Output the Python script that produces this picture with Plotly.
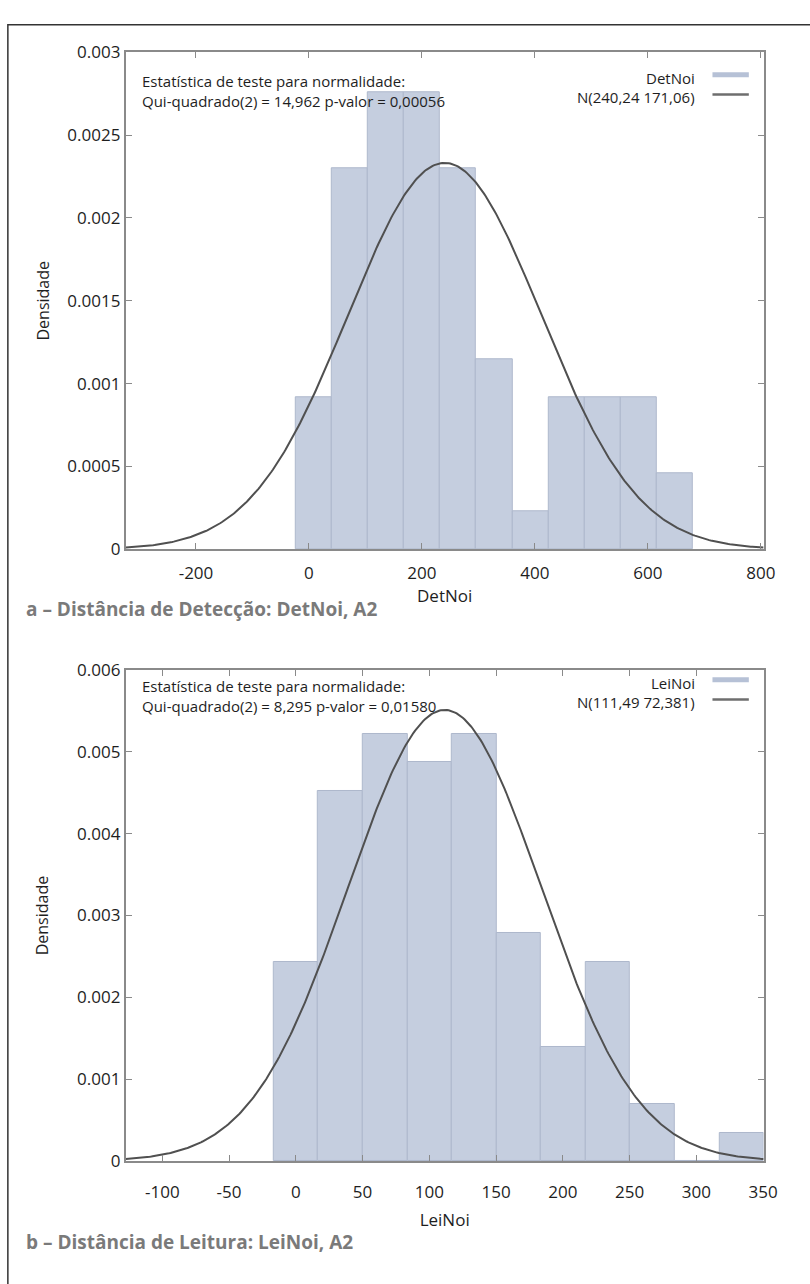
import numpy as np
import plotly.graph_objects as go

# ---------------- data ----------------
# Top: DetNoi
det_bin_centers = [8, 72, 136, 200, 264, 328, 392, 456, 520, 584, 648]
det_counts = [4, 10, 12, 12, 10, 5, 1, 4, 4, 4, 2]
det_bin_width = 64
det_n = 68
det_mean, det_sd = 240.24, 171.06
det_xticks = [-200, 0, 200, 400, 600, 800]
det_yticks = [0, 0.0005, 0.001, 0.0015, 0.002, 0.0025, 0.003]
det_ytext = ["0", "0.0005", "0.001", "0.0015", "0.002", "0.0025", "0.003"]

# Bottom: LeiNoi
lei_bin_centers = [0, 33.4, 66.8, 100.2, 133.6, 167.0, 200.4, 233.8, 267.2, 300.6, 334.0]
lei_counts = [7, 13, 15, 14, 15, 8, 4, 7, 2, 0, 1]
lei_bin_width = 33.4
lei_n = 86
lei_mean, lei_sd = 111.49, 72.381
lei_xticks = [-100, -50, 0, 50, 100, 150, 200, 250, 300, 350]
lei_yticks = [0, 0.001, 0.002, 0.003, 0.004, 0.005, 0.006]
lei_ytext = ["0", "0.001", "0.002", "0.003", "0.004", "0.005", "0.006"]

W, H = 810, 1284
FONT = "Open Sans, Noto Sans, sans-serif"
BAR_FILL = "#c5cedf"
BAR_EDGE = "#aeb8cc"
CURVE = "#505050"
AXIS = "#8a8a8a"
TXT = "#1e1e1e"


def px_x(p):
    return p / W


def px_y(p):
    return 1 - p / H


fig = go.Figure()

panels = [
    dict(xa="x", ya="y", centers=det_bin_centers, counts=det_counts, w=det_bin_width, n=det_n,
         mean=det_mean, sd=det_sd, xt=det_xticks, yt=det_yticks, ytt=det_ytext,
         top=41, bottom=547, ymax=0.003, name="DetNoi", nlabel="N(240,24 171,06)",
         stat="Qui-quadrado(2) = 14,962 p-valor = 0,00056",
         caption="a – Distância de Detecção: DetNoi, A2",
         txt_off=28, tick_stand=7, title_stand=4, ytitle_stand=14, cap_y=608),
    dict(xa="x2", ya="y2", centers=lei_bin_centers, counts=lei_counts, w=lei_bin_width, n=lei_n,
         mean=lei_mean, sd=lei_sd, xt=lei_xticks, yt=lei_yticks, ytt=lei_ytext,
         top=670, bottom=1170, ymax=0.006, name="LeiNoi", nlabel="N(111,49 72,381)",
         stat="Qui-quadrado(2) = 8,295 p-valor = 0,01580",
         caption="b – Distância de Leitura: LeiNoi, A2",
         txt_off=15, tick_stand=15, title_stand=12, ytitle_stand=24, cap_y=1252),
]

LEFT, RIGHT = 128, 777

for i, p in enumerate(panels):
    dens = [c / (p["n"] * p["w"]) for c in p["counts"]]
    xmin = p["mean"] - 3.3 * p["sd"]
    xmax = p["mean"] + 3.3 * p["sd"]
    fig.add_trace(go.Bar(x=p["centers"], y=dens, width=p["w"], marker=dict(color=BAR_FILL,
                         line=dict(color=BAR_EDGE, width=1)), xaxis=p["xa"], yaxis=p["ya"],
                         showlegend=False, hoverinfo="skip"))
    xs = np.linspace(xmin, xmax, 400)
    ys = np.exp(-0.5 * ((xs - p["mean"]) / p["sd"]) ** 2) / (p["sd"] * np.sqrt(2 * np.pi))
    fig.add_trace(go.Scatter(x=xs, y=ys, mode="lines", line=dict(color=CURVE, width=2),
                             xaxis=p["xa"], yaxis=p["ya"], showlegend=False, hoverinfo="skip"))
    sfx = "" if i == 0 else "2"
    fig.layout["xaxis" + sfx] = dict(
        domain=[px_x(LEFT), px_x(RIGHT)], anchor=p["ya"], range=[xmin, xmax],
        tickvals=p["xt"], ticktext=[str(v) for v in p["xt"]], ticks="inside", ticklen=6,
        tickcolor=AXIS, mirror="ticks", showline=True, linecolor=AXIS, linewidth=2,
        showgrid=False, zeroline=False, ticklabelstandoff=p["tick_stand"],
        tickfont=dict(size=17, color=TXT, family=FONT),
        title=dict(text=p["name"], font=dict(size=17, color=TXT, family=FONT),
                   standoff=p["title_stand"]))
    fig.layout["yaxis" + sfx] = dict(
        domain=[px_y(p["bottom"]), px_y(p["top"])], anchor=p["xa"], range=[0, p["ymax"]],
        tickvals=p["yt"], ticktext=p["ytt"], ticks="inside", ticklen=6, tickcolor=AXIS,
        mirror="ticks", showline=True, linecolor=AXIS, linewidth=2, showgrid=False,
        zeroline=False, tickfont=dict(size=17, color=TXT, family=FONT),
        title=dict(text="Densidade", font=dict(size=16, color=TXT, family=FONT),
                   standoff=p["ytitle_stand"]))

    # stats text
    fig.add_annotation(xref="paper", yref="paper", x=px_x(LEFT + 14),
                       y=px_y(p["top"] + p["txt_off"] - 11),
                       xanchor="left", yanchor="top", align="left", showarrow=False,
                       text="Estatística de teste para normalidade:<br>" + p["stat"],
                       font=dict(size=15, color=TXT, family=FONT))
    # legend
    for j, (lab, col, lw) in enumerate([(p["name"], "#b6c1d6", 5), (p["nlabel"], "#6e6e6e", 2.5)]):
        yy = p["top"] + p["txt_off"] - 2 + j * 20
        fig.add_annotation(xref="paper", yref="paper", x=px_x(RIGHT - 68), y=px_y(yy),
                           xanchor="right", yanchor="middle", showarrow=False, text=lab,
                           font=dict(size=15, color=TXT, family=FONT))
        fig.add_shape(type="line", xref="paper", yref="paper", x0=px_x(RIGHT - 52),
                      x1=px_x(RIGHT - 15), y0=px_y(yy - 3), y1=px_y(yy - 3),
                      line=dict(color=col, width=lw))
    # caption
    fig.add_annotation(xref="paper", yref="paper", x=px_x(24), y=px_y(p["cap_y"]),
                       xanchor="left", yanchor="middle", showarrow=False,
                       text="<b>" + p["caption"] + "</b>",
                       font=dict(size=19, color="#7a7a7a", family=FONT))

# outer frame (partially cropped)
fig.add_shape(type="rect", xref="paper", yref="paper", x0=px_x(8), x1=1.05, y0=-0.05,
              y1=px_y(13), line=dict(color="#333", width=1.5), layer="below")

fig.update_layout(width=W, height=H, margin=dict(l=0, r=0, t=0, b=0),
                  paper_bgcolor="white", plot_bgcolor="white", bargap=0,
                  font=dict(family=FONT))

fig.write_html("out.html")
